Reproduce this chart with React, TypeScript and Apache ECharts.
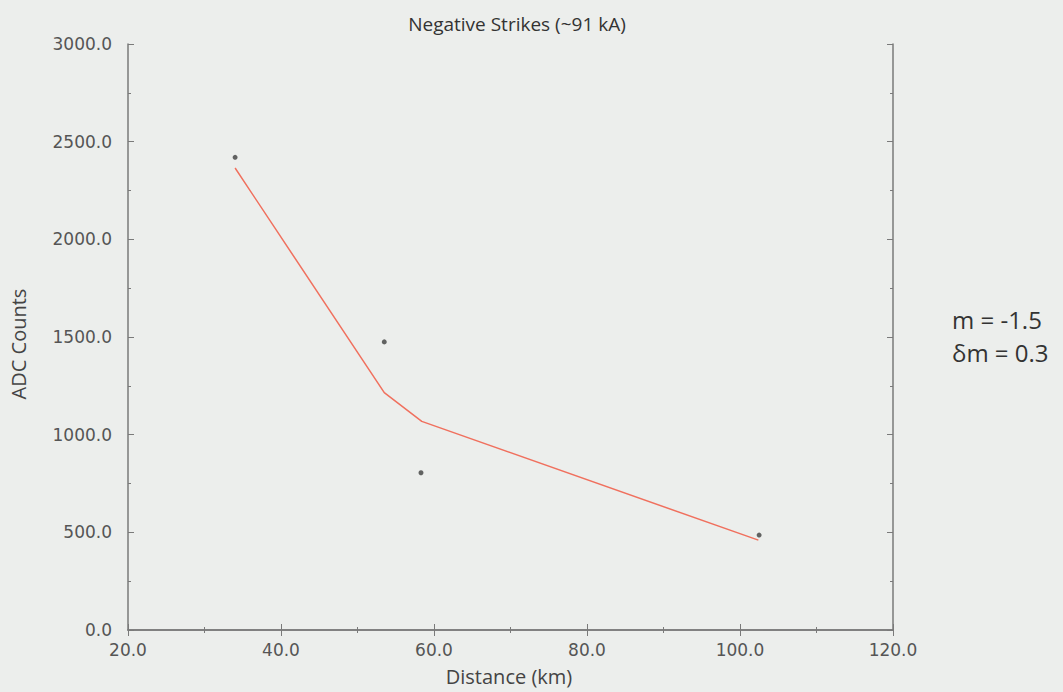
import React, { useEffect, useRef } from "react";
import * as echarts from "echarts";

const distanceKm = [34.0, 53.5, 58.3, 102.5];
const adcCounts = [2420, 1475, 805, 486];
const fitDistance = [34.0, 53.5, 58.4, 102.4];
const fitCounts = [2365, 1215, 1068, 460];
const titleText = "Negative Strikes (~91 kA)";
const xName = "Distance (km)";
const yName = "ADC Counts";
const noteLines = ["m = -1.5", "δm = 0.3"];

export default function App() {
  const ref = useRef<HTMLDivElement>(null);
  useEffect(() => {
    const chart = echarts.init(ref.current!, null, { renderer: "svg" });
    const axisColor = "#7a7a7a";
    const labelStyle = { color: "#555", fontSize: 17, fontFamily: "DejaVu Sans" };
    chart.setOption({
      animation: false,
      backgroundColor: "#eceeec",
      title: {
        text: titleText,
        left: 512,
        top: 9,
        textAlign: "center",
        textStyle: { fontSize: 19, fontWeight: "normal", color: "#333", fontFamily: "Open Sans" },
      },
      grid: { left: 128, right: 170, top: 44, bottom: 62 },
      xAxis: [
        {
          type: "value",
          min: 20,
          max: 120,
          interval: 20,
          position: "bottom",
          axisLine: { show: true, lineStyle: { color: axisColor, width: 1.5 } },
          axisTick: { show: true, inside: true, length: 6, lineStyle: { color: axisColor } },
          minorTick: { show: true, splitNumber: 2, length: 3, lineStyle: { color: axisColor } },
          splitLine: { show: false },
          axisLabel: { ...labelStyle, margin: 11, formatter: (v: number) => v.toFixed(1) },
        },
        {
          type: "value",
          min: 20,
          max: 120,
          interval: 20,
          position: "top",
          axisLine: { show: true, lineStyle: { color: axisColor, width: 1.5 } },
          axisTick: { show: true, inside: true, length: 6, lineStyle: { color: axisColor } },
          minorTick: { show: true, splitNumber: 2, length: 3, lineStyle: { color: axisColor } },
          splitLine: { show: false },
          axisLabel: { show: false },
        },
      ],
      yAxis: [
        {
          type: "value",
          min: 0,
          max: 3000,
          interval: 500,
          position: "left",
          axisLine: { show: true, lineStyle: { color: axisColor, width: 1.5 } },
          axisTick: { show: true, inside: true, length: 6, lineStyle: { color: axisColor } },
          minorTick: { show: true, splitNumber: 2, length: 3, lineStyle: { color: axisColor } },
          splitLine: { show: false },
          axisLabel: { ...labelStyle, margin: 16, formatter: (v: number) => v.toFixed(1) },
        },
        {
          type: "value",
          min: 0,
          max: 3000,
          interval: 500,
          position: "right",
          axisLine: { show: true, lineStyle: { color: axisColor, width: 1.5 } },
          axisTick: { show: true, inside: true, length: 6, lineStyle: { color: axisColor } },
          minorTick: { show: true, splitNumber: 2, length: 3, lineStyle: { color: axisColor } },
          splitLine: { show: false },
          axisLabel: { show: false },
        },
      ],
      series: [
        {
          type: "line",
          data: fitDistance.map((x, i) => [x, fitCounts[i]]),
          showSymbol: false,
          symbol: "none",
          lineStyle: { color: "#f0705e", width: 1.5 },
          z: 2,
        },
        {
          type: "scatter",
          data: distanceKm.map((x, i) => [x, adcCounts[i]]),
          symbol: "circle",
          symbolSize: 5,
          itemStyle: { color: "#3f3f3f" },
          z: 3,
        },
      ],
      graphic: [
        {
          type: "text",
          x: 509,
          y: 676,
          style: {
            text: xName,
            fill: "#444",
            fontSize: 20,
            fontFamily: "Open Sans",
            textAlign: "center",
            textVerticalAlign: "middle",
          },
        },
        {
          type: "text",
          x: 18,
          y: 344,
          rotation: Math.PI / 2,
          style: {
            text: yName,
            fill: "#444",
            fontSize: 20,
            fontFamily: "Open Sans",
            textAlign: "center",
            textVerticalAlign: "middle",
          },
        },
        {
          type: "text",
          x: 952,
          y: 319,
          style: {
            text: noteLines[0],
            fill: "#333",
            fontSize: 24,
            fontFamily: "Open Sans",
            textAlign: "left",
            textVerticalAlign: "middle",
          },
        },
        {
          type: "text",
          x: 952,
          y: 352,
          style: {
            text: noteLines[1],
            fill: "#333",
            fontSize: 24,
            fontFamily: "Open Sans",
            textAlign: "left",
            textVerticalAlign: "middle",
          },
        },
      ],
    });
    return () => chart.dispose();
  }, []);
  return (
    <div
      ref={ref}
      style={{ position: "absolute", left: 0, top: 0, width: 1063, height: 692 }}
    />
  );
}
